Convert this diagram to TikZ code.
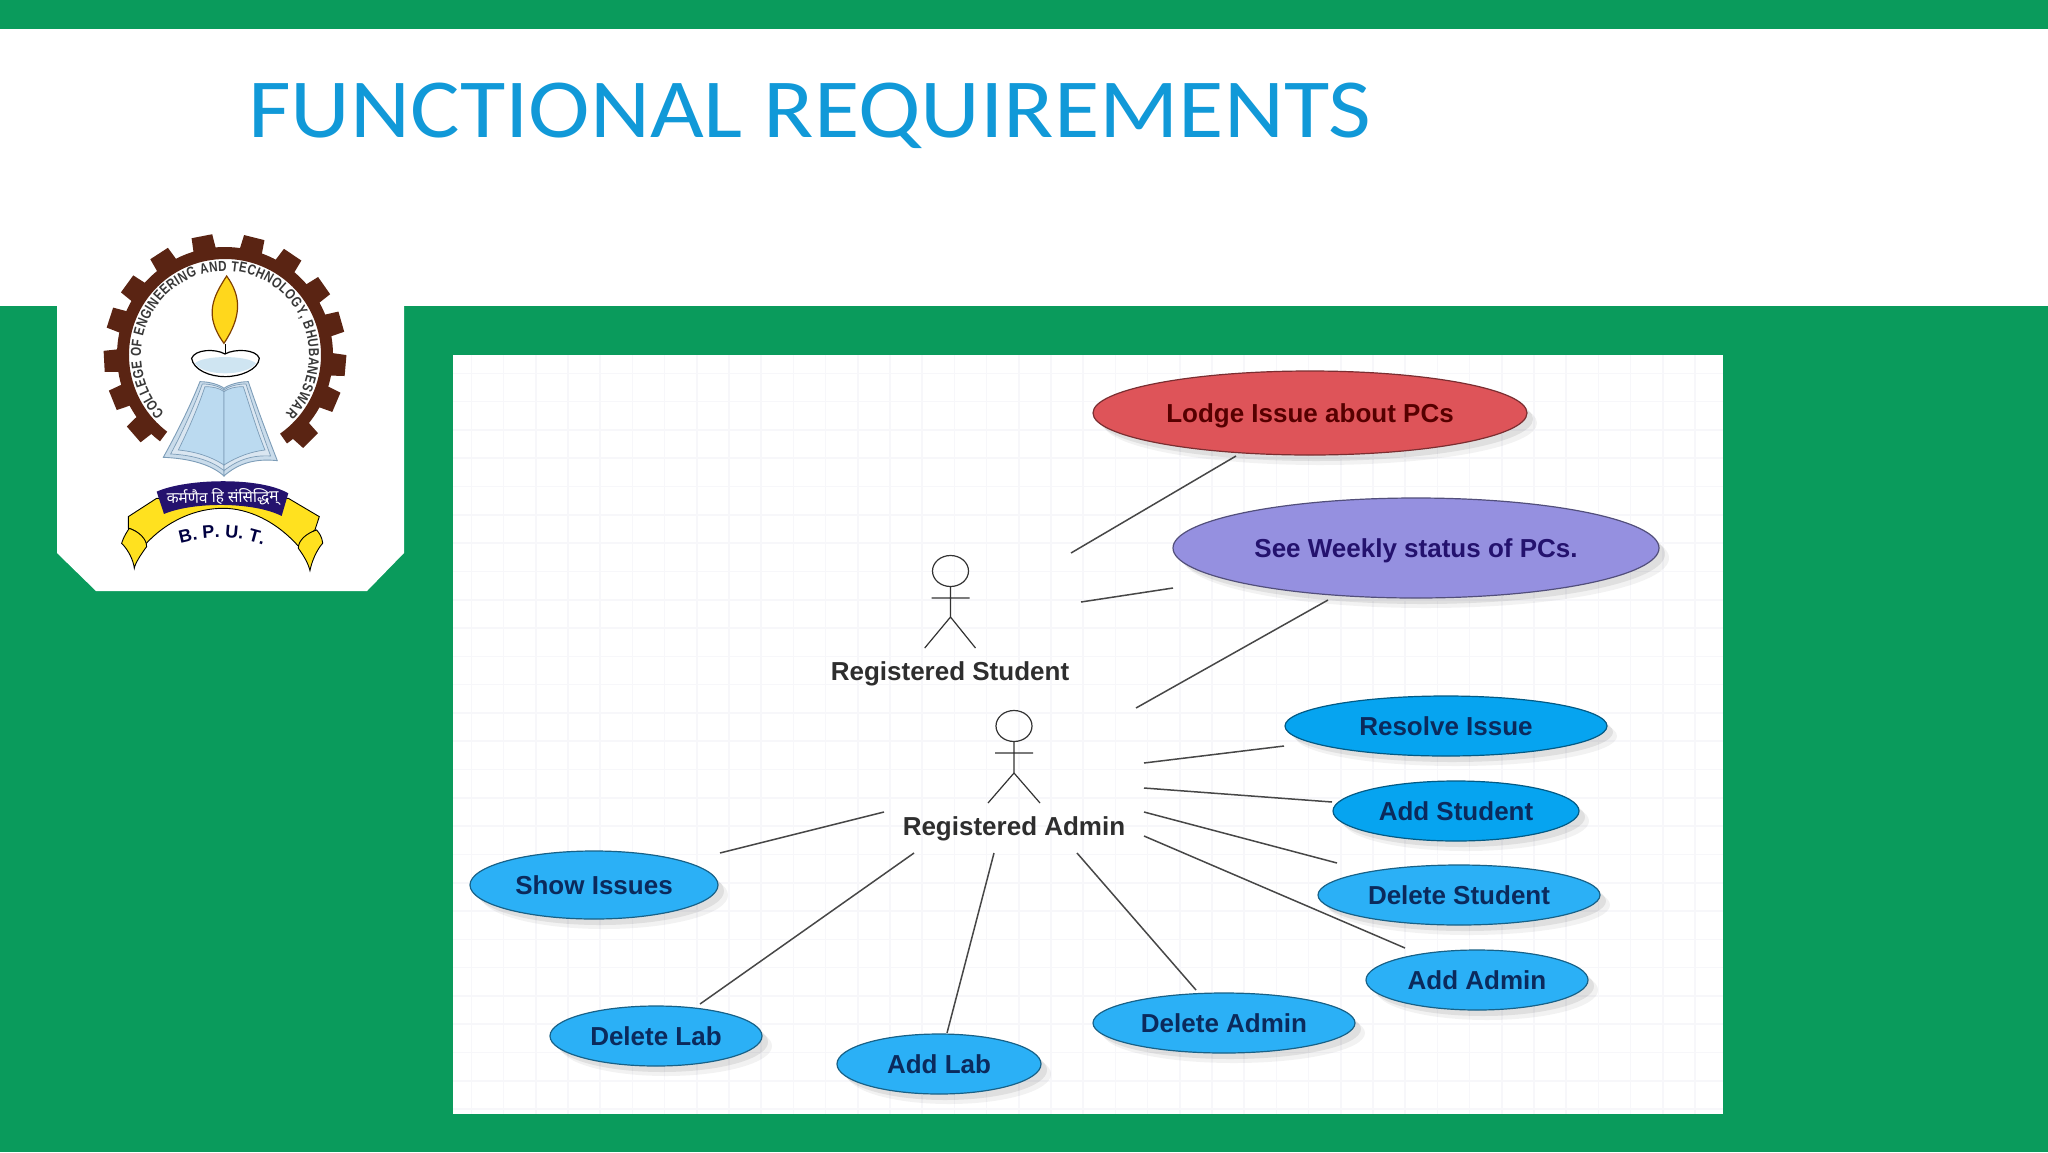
\documentclass[tikz,border=0pt]{standalone}
\usepackage{fontspec}
\setmainfont{Liberation Sans}
\newfontfamily\titlefont[FakeStretch=1.105]{Carlito}
\newfontfamily\narrowbold[FakeStretch=.8]{Liberation Sans Bold}
\newfontfamily\devafont[Script=Devanagari]{Noto Sans}
\usetikzlibrary{shapes.geometric,shadows,decorations.text}
\definecolor{slidegreen}{HTML}{0A9B5C}
\definecolor{titleblue}{HTML}{1199D8}
\definecolor{uclight}{HTML}{2BB0F6}
\definecolor{ucdeep}{HTML}{06A4F0}
\definecolor{ucred}{HTML}{DE5459}
\definecolor{ucviolet}{HTML}{9590E0}
\definecolor{gridc}{HTML}{F7F7FA}
\definecolor{gearbrown}{HTML}{5A2413}
\definecolor{ribbon}{HTML}{FFE11F}
\definecolor{navytext}{HTML}{0B2A5C}
\definecolor{bookedge}{HTML}{7D9DB8}
\definecolor{bookouter}{HTML}{CADCEB}
\definecolor{bookinner}{HTML}{BBDAF0}
\definecolor{lampblue}{HTML}{CFE5F2}
\definecolor{bannerc}{HTML}{24126E}
\tikzset{
  usecase/.style={ellipse,draw=#1!55!black,line width=1.2pt,inner sep=0pt,fill=#1,
    font=\fontsize{26}{28}\selectfont\bfseries,text=navytext,
    drop shadow={shadow xshift=10pt,shadow yshift=-10pt,fill=black,opacity=.05},
    drop shadow={shadow xshift=6pt,shadow yshift=-6pt,fill=black,opacity=.08}},
  actorlabel/.style={font=\fontsize{26}{28}\selectfont\bfseries,text=black!82},
  actorline/.style={line width=1.2pt,draw=black!80},
  assoc/.style={line width=1.5pt,draw=black!72},
}
\begin{document}
\begin{tikzpicture}[x=1pt,y=-1pt]
\useasboundingbox (0,0) rectangle (2048,1152);
% slide
\fill[slidegreen] (0,0) rectangle (2048,1152);
\fill[white] (0,29) rectangle (2048,306);
\fill[white] (57,300) -- (404,300) -- (404,553) -- (367,591) -- (96,591) -- (57,553) -- cycle;
\node[anchor=west,inner sep=0pt,text=titleblue,font=\titlefont\fontsize{84}{90}\selectfont] (title) at (248,116) {FUNCTIONAL REQUIREMENTS};
% diagram canvas
\fill[white] (453,355) rectangle (1723,1114);
\foreach \i in {0,...,38} \draw[gridc,line width=1.6pt] ({471.3+32.2*\i},355) -- ({471.3+32.2*\i},1114);
\foreach \i in {0,...,26} \draw[gridc,line width=1.6pt] (453,{373.3+28.3*\i}) -- (1723,{373.3+28.3*\i});
% logo: gear
\begin{scope}[shift={(225,355)},x=1pt,y=1pt]
\fill[gearbrown] (-55:108) arc[start angle=-55,end angle=233,radius=108] -- (233:96) arc[start angle=233,end angle=-55,radius=96] -- cycle;
\foreach \a in {-45,-23,-5,16,35,56,76,101,123,144,162,183,202,221}
  \fill[gearbrown,rotate=\a] (103,-11.5) -- (121,-10.5) -- (121,10.5) -- (103,11.5) -- cycle;
\path[decorate,decoration={text along path,text align={fit to path},
  text={|\narrowbold\fontsize{14.5}{15}\selectfont\color{black!78}|COLLEGE OF ENGINEERING AND TECHNOLOGY, BHUBANESWAR}}]
  (224:84) arc[start angle=224,end angle=-44,radius=84];
\end{scope}
% logo: lamp, book, ribbon (coordinates of a 3x crop)
\begin{scope}[shift={(0,200)},x=.3333pt,y=-.3333pt]
\draw[draw=black,line width=.7pt] (675,432) -- (675,460);
\draw[fill=ribbon!90!orange,draw=orange!50!black,line width=1.2pt] (680,228) .. controls (640,290) and (610,345) .. (672,430) .. controls (725,350) and (725,290) .. (680,228) -- cycle;
\fill[lampblue] (585,490) .. controls (610,530) and (740,530) .. (768,490) .. controls (740,465) and (610,465) .. (585,490) -- cycle;
\draw[black,line width=1.2pt] (575,475) .. controls (580,510) and (630,530) .. (675,530) .. controls (720,530) and (775,510) .. (778,475) .. controls (770,448) and (705,445) .. (675,462) .. controls (645,445) and (585,448) .. (575,475) -- cycle;
% book
\draw[fill=bookouter,draw=bookedge,line width=.9pt] (600,545) .. controls (630,545) and (660,555) .. (672,565) -- (672,828) .. controls (630,790) and (560,775) .. (490,772) .. controls (530,700) and (570,620) .. (600,545) -- cycle;
\draw[fill=bookouter,draw=bookedge,line width=.9pt] (745,545) .. controls (715,545) and (685,555) .. (672,565) -- (672,828) .. controls (715,790) and (765,775) .. (832,782) .. controls (800,700) and (770,620) .. (745,545) -- cycle;
\draw[fill=bookouter!70!white,draw=bookedge,line width=.7pt] (607,552) .. controls (635,552) and (660,560) .. (672,570) -- (672,812) .. controls (630,778) and (570,765) .. (512,762) .. controls (548,695) and (582,620) .. (607,552) -- cycle;
\draw[fill=bookouter!70!white,draw=bookedge,line width=.7pt] (738,552) .. controls (710,552) and (685,560) .. (672,570) -- (672,812) .. controls (715,778) and (760,765) .. (812,768) .. controls (785,695) and (760,620) .. (738,552) -- cycle;
\draw[fill=bookinner,draw=bookedge,line width=.7pt] (615,560) .. controls (640,560) and (660,565) .. (672,575) -- (672,795) .. controls (630,768) and (585,755) .. (535,750) .. controls (565,690) and (595,620) .. (615,560) -- cycle;
\draw[fill=bookinner,draw=bookedge,line width=.7pt] (730,560) .. controls (705,560) and (685,565) .. (672,575) -- (672,795) .. controls (715,768) and (755,755) .. (795,750) .. controls (770,690) and (750,620) .. (730,560) -- cycle;
% ribbon
\draw[fill=ribbon,draw=black,line width=.9pt] (385,950) -- (470,895) -- (865,895) -- (958,950) -- (945,990) .. controls (915,1010) and (900,1030) .. (905,1050) .. controls (830,960) and (740,925) .. (670,925) .. controls (590,925) and (500,960) .. (430,1040) .. controls (440,1015) and (410,990) .. (385,985) -- cycle;
\draw[fill=ribbon,draw=black,line width=.9pt] (388,985) .. controls (370,1010) and (365,1030) .. (365,1030) .. controls (385,1050) and (400,1080) .. (403,1105) .. controls (405,1090) and (425,1060) .. (440,1040) .. controls (440,1015) and (415,995) .. (388,985) -- cycle;
\draw[fill=ribbon,draw=black,line width=.9pt] (950,990) .. controls (968,1010) and (968,1030) .. (968,1030) .. controls (950,1050) and (935,1085) .. (930,1112) .. controls (925,1090) and (910,1065) .. (895,1045) .. controls (895,1020) and (920,1000) .. (950,990) -- cycle;
\fill[bannerc] (470,875) .. controls (560,835) and (780,830) .. (865,880) -- (845,948) .. controls (760,905) and (580,905) .. (492,942) -- cycle;
\node[inner sep=0pt,text=white,rotate=1,font=\devafont\fontsize{15.5}{17}\selectfont] (motto) at (668,893) {कर्मणैव हि संसिद्धिम्};
\path[decorate,decoration={text along path,text align=center,
  text={|\fontsize{18}{19}\selectfont\bfseries\color{black!75!blue}|B. P. U. T.}}]
  (525,1035) .. controls (620,1005) and (720,1005) .. (805,1042);
\end{scope}
% actors
\draw[actorline] (950.5,571) ellipse[x radius=18,y radius=15.5];
\draw[actorline] (950.5,586.5) -- (950.5,617) (931.5,598) -- (969.5,598) (924.7,648) -- (950.5,617) -- (975.5,648);
\draw[actorline] (1014,726) ellipse[x radius=18,y radius=15.5];
\draw[actorline] (1014,741.5) -- (1014,773) (995,753) -- (1033,753) (988,803) -- (1014,773) -- (1040,803);
\node[actorlabel] (student) at (950,674) {Registered Student};
\node[actorlabel] (admin) at (1014,829) {Registered Admin};
% use cases
\node[usecase=ucred,text=black!55!red!75!black,minimum width=434pt,minimum height=84pt,text height=22pt,text depth=3.6pt] (lodge) at (1310,413) {Lodge Issue about PCs};
\node[usecase=ucviolet,text=bannerc,minimum width=486pt,minimum height=100pt,text height=22pt,text depth=3.6pt] (weekly) at (1416,548) {See Weekly status of PCs.};
\node[usecase=ucdeep,minimum width=322pt,minimum height=60pt] (resolve) at (1446,726) {Resolve Issue};
\node[usecase=ucdeep,minimum width=246pt,minimum height=60pt] (addstudent) at (1456,811) {Add Student};
\node[usecase=uclight,minimum width=282pt,minimum height=60pt] (delstudent) at (1459,895) {Delete Student};
\node[usecase=uclight,minimum width=222pt,minimum height=60pt] (addadmin) at (1477,980) {Add Admin};
\node[usecase=uclight,minimum width=262pt,minimum height=60pt] (deladmin) at (1224,1023) {Delete Admin};
\node[usecase=uclight,minimum width=204pt,minimum height=60pt] (addlab) at (939,1064) {Add Lab};
\node[usecase=uclight,minimum width=212pt,minimum height=60pt] (dellab) at (656,1036) {Delete Lab};
\node[usecase=uclight,minimum width=248pt,minimum height=68pt] (showissues) at (594,885) {Show Issues};
% free connector ends
\coordinate (s1) at (1071,553);
\coordinate (e1) at (1236,456);
\coordinate (s2) at (1081,602);
\coordinate (e2) at (1173,588);
\coordinate (s3) at (1136,708);
\coordinate (e3) at (1328,600);
\coordinate (a1) at (1144,763);
\coordinate (b1) at (1284,746);
\coordinate (a2) at (1144,788);
\coordinate (b2) at (1332,802);
\coordinate (a3) at (1144,812);
\coordinate (b3) at (1337,863);
\coordinate (a4) at (1144,836);
\coordinate (b4) at (1405,948);
\coordinate (a5) at (884,812);
\coordinate (b5) at (720,853);
\coordinate (a6) at (914,853);
\coordinate (b6) at (700,1004);
\coordinate (a7) at (994,853);
\coordinate (b7) at (947,1033);
\coordinate (a8) at (1077,853);
\coordinate (b8) at (1196,990);
\foreach \p/\q in {s1/e1,s2/e2,s3/e3,a1/b1,a2/b2,a3/b3,a4/b4,a5/b5,a6/b6,a7/b7,a8/b8}
  \draw[assoc] (\p) -- (\q);
\end{tikzpicture}
\end{document}
